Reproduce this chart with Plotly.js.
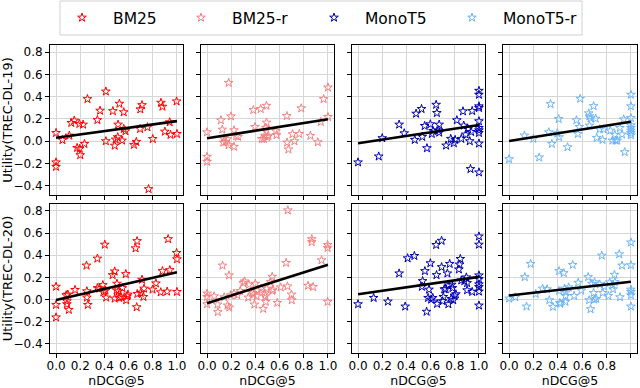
<!DOCTYPE html>
<html>
<head>
<meta charset="utf-8">
<script src="https://cdn.plot.ly/plotly-3.0.1.min.js"></script>
<style>html,body{margin:0;padding:0;background:#fff;}#chart{width:640px;height:388px;}</style>
</head>
<body>
<div id="chart"></div>
<script>
// ---- Data ----
const methods = ["BM25", "BM25-r", "MonoT5", "MonoT5-r"];
const colors = ["#ff0000", "#f58080", "#0000b4", "#6cb4fa"];
const xTicks = [0, 0.2, 0.4, 0.6, 0.8, 1.0];
const yTicks = [-0.4, -0.2, 0.0, 0.2, 0.4, 0.6, 0.8];
const yTitles = ["Utility(TREC-DL-19)", "Utility(TREC-DL-20)"];
const xTitle = "nDCG@5";

// TREC-DL-19
const bm25_dl19_x = [0.0,0.0,0.0,0.053,0.11,0.126,0.151,0.174,0.193,0.196,0.2,0.224,0.235,0.26,0.342,0.364,0.412,0.412,0.47,0.485,0.493,0.51,0.513,0.524,0.546,0.56,0.56,0.574,0.644,0.664,0.695,0.697,0.711,0.756,0.765,0.8,0.868,0.88,0.9,0.94,0.947,0.997,1.0];
const bm25_dl19_y = [0.074,-0.19,-0.23,0.01,0.05,0.164,0.185,-0.06,0.155,-0.068,-0.125,0.149,-0.024,0.378,0.19,0.274,0.446,0.0,0.27,-0.04,0.015,0.036,0.149,0.336,0.006,0.26,0.11,0.09,-0.033,-0.006,0.11,0.286,0.324,0.125,-0.43,0.02,0.345,0.31,0.086,0.17,0.057,0.357,0.065];

const bm25r_dl19_x = [0.0,0.0,0.0,0.115,0.126,0.137,0.134,0.154,0.168,0.179,0.179,0.198,0.223,0.223,0.24,0.257,0.383,0.397,0.444,0.453,0.47,0.478,0.486,0.492,0.492,0.497,0.508,0.57,0.575,0.66,0.662,0.673,0.707,0.723,0.763,0.779,0.855,0.916,0.941,0.964,1.0,1.0];
const bm25r_dl19_y = [0.08,-0.14,-0.185,0.188,0.104,0.024,-0.012,-0.006,0.018,0.524,-0.036,0.223,0.098,-0.05,0.045,0.039,0.28,0.128,0.289,0.02,0.02,0.05,0.12,0.167,0.318,0.036,0.048,0.09,0.054,0.226,-0.012,-0.074,0.063,0.0,0.065,0.295,0.048,-0.009,0.173,0.378,0.482,0.217];

const monot5_dl19_x = [0.0,0.171,0.2,0.34,0.382,0.469,0.48,0.525,0.531,0.551,0.57,0.598,0.61,0.62,0.646,0.652,0.666,0.671,0.671,0.728,0.767,0.792,0.803,0.817,0.854,0.868,0.874,0.89,0.91,0.924,0.93,0.935,0.944,1.0,1.0,1.0,1.0,1.0,1.0,1.0,1.0,1.0,1.0];
const monot5_dl19_y = [-0.19,-0.137,0.027,0.149,0.071,0.012,0.247,0.289,0.039,0.137,-0.063,0.152,0.065,0.092,0.327,0.253,0.098,0.149,0.077,-0.039,0.021,-0.018,0.012,0.188,0.021,0.268,0.14,0.06,0.107,0.0,-0.25,0.083,0.271,0.452,0.417,0.313,0.298,0.179,0.119,0.098,0.074,-0.021,-0.28];

const monot5r_dl19_x = [0.0,0.126,0.199,0.247,0.326,0.34,0.351,0.396,0.407,0.41,0.48,0.553,0.565,0.576,0.584,0.654,0.66,0.66,0.669,0.694,0.711,0.719,0.744,0.767,0.775,0.831,0.848,0.868,0.874,0.888,0.91,0.927,0.941,0.949,1.0,1.0,1.0,1.0,1.0,1.0,1.0,1.0];
const monot5r_dl19_y = [-0.161,0.051,0.021,-0.146,0.08,0.333,-0.024,0.071,0.199,0.036,-0.054,0.188,0.065,0.128,0.381,0.25,0.223,0.14,0.205,0.315,0.202,0.03,0.107,0.012,0.107,0.095,0.006,0.057,0.006,0.006,0.119,0.06,0.196,-0.098,0.417,0.313,0.208,0.143,0.119,0.095,0.074,0.054];

// TREC-DL-20
const bm25_dl20_x = [0.0,0.0,0.0,0.084,0.09,0.09,0.098,0.106,0.157,0.252,0.255,0.255,0.263,0.342,0.342,0.359,0.387,0.392,0.403,0.409,0.415,0.468,0.485,0.485,0.501,0.504,0.518,0.521,0.538,0.549,0.577,0.58,0.588,0.594,0.658,0.67,0.667,0.672,0.7,0.711,0.723,0.728,0.798,0.826,0.866,0.88,0.919,0.927,0.941,0.997,1.0,1.0];
const bm25_dl20_y = [0.116,-0.048,-0.161,0.039,-0.015,-0.042,0.045,-0.093,0.087,0.307,0.075,0.018,-0.048,0.37,0.104,0.099,0.131,0.066,0.496,0.081,0.018,0.221,0.254,0.009,0.084,0.143,0.075,0.015,0.021,0.104,0.23,-0.006,0.03,0.045,0.463,0.528,-0.069,0.051,0.06,0.179,0.024,0.099,0.09,0.146,0.066,0.257,0.072,0.546,0.266,0.421,0.364,0.069];

const bm25r_dl20_x = [0.0,0.0,0.0,0.059,0.087,0.089,0.128,0.142,0.17,0.182,0.184,0.196,0.223,0.251,0.274,0.299,0.31,0.341,0.346,0.374,0.385,0.391,0.399,0.411,0.416,0.447,0.464,0.478,0.483,0.486,0.492,0.525,0.539,0.539,0.545,0.581,0.609,0.654,0.668,0.665,0.698,0.701,0.835,0.866,0.866,0.877,0.947,0.997,0.997,0.997];
const bm25r_dl20_y = [0.054,0.024,-0.042,0.03,-0.045,-0.113,0.307,0.021,-0.054,0.218,-0.072,0.039,0.054,0.039,0.078,0.149,0.164,0.018,0.134,0.06,0.045,-0.045,0.143,0.03,0.081,0.099,-0.084,0.054,0.03,-0.021,0.099,0.158,0.078,0.206,0.09,-0.03,0.11,0.331,0.806,0.119,0.045,-0.006,0.125,0.546,0.519,0.113,0.355,0.493,0.466,-0.021];

const monot5_dl20_x = [0.0,0.129,0.247,0.34,0.39,0.41,0.466,0.528,0.534,0.553,0.567,0.579,0.587,0.598,0.604,0.618,0.646,0.649,0.654,0.691,0.691,0.699,0.705,0.713,0.725,0.739,0.747,0.75,0.758,0.77,0.775,0.781,0.787,0.798,0.809,0.834,0.84,0.846,0.854,0.879,0.896,0.902,0.902,0.944,1.0,1.0,1.0,1.0,1.0,1.0,1.0,1.0];
const monot5_dl20_y = [-0.042,0.015,-0.018,0.236,-0.063,0.373,0.394,0.116,0.167,0.257,-0.11,0.015,0.09,0.328,0.0,0.015,0.493,0.221,-0.039,0.531,0.293,-0.015,0.024,0.093,0.093,0.236,-0.042,0.128,0.322,0.006,0.134,0.104,-0.006,0.036,0.048,0.272,0.316,0.367,0.173,0.167,0.2,0.149,0.084,0.069,0.57,0.496,0.218,0.185,0.137,0.113,0.072,-0.054];

const monot5r_dl20_x = [0.0,0.051,0.129,0.143,0.177,0.219,0.275,0.312,0.331,0.36,0.41,0.41,0.416,0.421,0.449,0.455,0.463,0.466,0.463,0.489,0.522,0.534,0.567,0.593,0.649,0.657,0.669,0.68,0.694,0.699,0.702,0.716,0.744,0.761,0.77,0.781,0.815,0.826,0.846,0.854,0.865,0.868,0.904,0.91,0.927,1.0,1.0,1.0,1.0,1.0,1.0];
const monot5r_dl20_y = [0.009,0.021,0.203,-0.063,0.322,0.051,0.099,0.093,-0.006,-0.066,0.257,0.078,-0.03,-0.039,0.239,0.099,0.033,0.066,-0.021,0.11,0.313,0.033,0.152,0.081,0.203,-0.006,-0.087,0.143,0.06,0.0,0.155,0.006,0.137,0.397,0.06,0.119,0.033,0.155,0.128,0.093,0.224,0.158,0.409,0.021,0.307,0.516,0.31,0.09,0.069,0.039,-0.063];

// Fitted trend line values at nDCG@5 = 0 and 1, per panel (row-major)
const fitAt0 = [0.03, 0.026, -0.019, 0.002, -0.004, -0.033, 0.047, 0.036];
const fitAt1 = [0.18, 0.196, 0.145, 0.175, 0.246, 0.315, 0.205, 0.16];

// ---- Build ----
const panelX = [
  [bm25_dl19_x, bm25r_dl19_x, monot5_dl19_x, monot5r_dl19_x],
  [bm25_dl20_x, bm25r_dl20_x, monot5_dl20_x, monot5r_dl20_x]
];
const panelY = [
  [bm25_dl19_y, bm25r_dl19_y, monot5_dl19_y, monot5r_dl19_y],
  [bm25_dl20_y, bm25r_dl20_y, monot5_dl20_y, monot5r_dl20_y]
];

const W = 640, H = 388;
const colPx = [[50,183],[201,334],[352,485],[503,637]];
const rowPx = [[45,195],[204,353]];
const legendStarPx = [83, 202, 335, 473];
const FONT = "DejaVu Sans, Liberation Sans, sans-serif";

const traces = [];
const layout = {
  width: W, height: H,
  margin: {l:0, r:0, t:0, b:0},
  paper_bgcolor: "#ffffff",
  plot_bgcolor: "#ffffff",
  font: {family: FONT, size: 12, color: "#000"},
  showlegend: true,
  shapes: [{
    type: "rect", xref: "paper", yref: "paper", layer: "below",
    x0: 60/W, x1: 582/W, y0: 1 - 35/H, y1: 1 - 1/H,
    line: {color: "#d0d0d0", width: 1}, fillcolor: "rgba(0,0,0,0)"
  }]
};

const legendNames = ["legend", "legend2", "legend3", "legend4"];
legendNames.forEach((ln, i) => {
  layout[ln] = {
    orientation: "h",
    x: (legendStarPx[i] - 32)/W, xanchor: "left",
    y: 1 - 1/H, yanchor: "top",
    borderwidth: 0,
    bgcolor: "rgba(0,0,0,0)",
    font: {family: FONT, size: 15.5, color: "#000"},
    itemwidth: 52
  };
});

for (let r = 0; r < 2; r++) {
  for (let c = 0; c < 4; c++) {
    const idx = r*4 + c + 1;
    const xa = idx === 1 ? "x" : "x" + idx;
    const ya = idx === 1 ? "y" : "y" + idx;
    traces.push({
      type: "scatter", mode: "markers",
      x: panelX[r][c], y: panelY[r][c],
      xaxis: xa, yaxis: ya,
      name: methods[c],
      legend: legendNames[c],
      showlegend: r === 0,
      marker: {symbol: "star-open", size: 6.5, color: colors[c], line: {width: 1, color: colors[c]}},
      hoverinfo: "skip"
    });
    traces.push({
      type: "scatter", mode: "lines",
      x: [xTicks[0], xTicks[xTicks.length-1]],
      y: [fitAt0[r*4+c], fitAt1[r*4+c]],
      xaxis: xa, yaxis: ya,
      showlegend: false,
      line: {color: "#000", width: 2.6},
      hoverinfo: "skip"
    });
    const common = {
      showline: true, mirror: true, linecolor: "#000", linewidth: 1,
      ticks: "outside", ticklen: 4, tickwidth: 1, tickcolor: "#000",
      showgrid: true, gridcolor: "#d6d6d6", gridwidth: 1,
      zeroline: false,
      tickfont: {family: FONT, size: 12, color: "#000"}
    };
    layout["xaxis" + (idx===1?"":idx)] = Object.assign({}, common, {
      domain: [colPx[c][0]/W, colPx[c][1]/W],
      anchor: ya,
      range: [-0.05, 1.05],
      tickvals: xTicks, tickformat: ".1f",
      showticklabels: r === 1,
      ticklen: 3.5,
      ticklabelstandoff: -2,
      title: r === 1 ? {text: xTitle, font: {family: FONT, size: 12.5, color: "#000"}, standoff: 3} : {text: ""}
    });
    layout["yaxis" + (idx===1?"":idx)] = Object.assign({}, common, {
      domain: [1 - rowPx[r][1]/H, 1 - rowPx[r][0]/H],
      anchor: xa,
      range: [-0.483, 0.863],
      tickvals: yTicks, tickformat: ".1f",
      showticklabels: c === 0,
      title: c === 0 ? {text: yTitles[r], font: {family: FONT, size: 13, color: "#000"}, standoff: 4} : {text: ""}
    });
  }
}

Plotly.newPlot("chart", traces, layout, {displayModeBar: false, staticPlot: true});
</script>
</body>
</html>
